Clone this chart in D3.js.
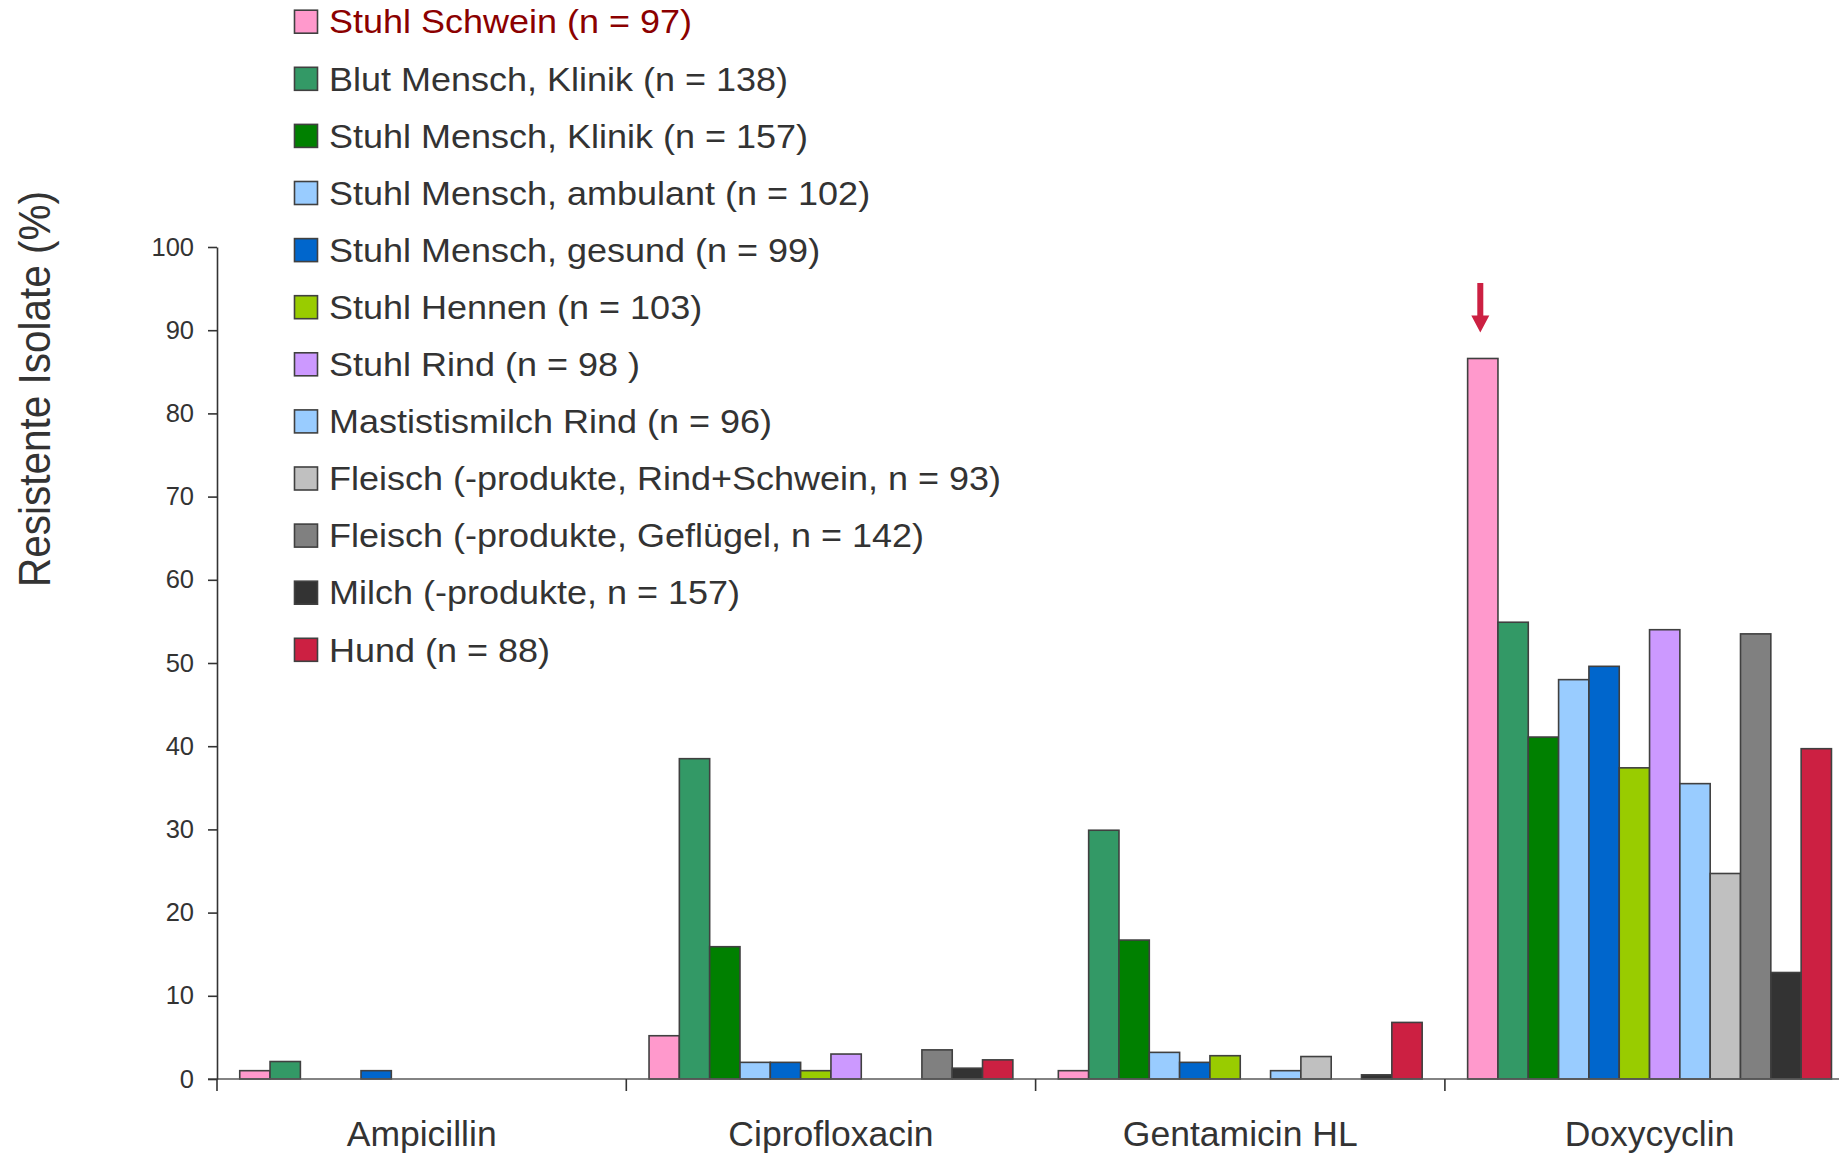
<!DOCTYPE html>
<html lang="de">
<head>
<meta charset="utf-8">
<title>Resistente Isolate</title>
<script src="https://cdn.jsdelivr.net/npm/d3@7/dist/d3.min.js"></script>
<style>
  html, body { margin: 0; padding: 0; background: #fff; overflow: hidden; }
  svg { display: block; font-family: "Liberation Sans", Arial, Helvetica, sans-serif; }
</style>
</head>
<body>
<svg id="chart" width="1839" height="1154"></svg>
<script>
// Antibiotika (Kategorien der x-Achse)
const categories = ["Ampicillin", "Ciprofloxacin", "Gentamicin HL", "Doxycyclin"];

// Herkunft der Isolate (Legende)
const seriesNames = [
  "Stuhl Schwein (n = 97)",
  "Blut Mensch, Klinik (n = 138)",
  "Stuhl Mensch, Klinik (n = 157)",
  "Stuhl Mensch, ambulant (n = 102)",
  "Stuhl Mensch, gesund (n = 99)",
  "Stuhl Hennen (n = 103)",
  "Stuhl Rind (n = 98 )",
  "Mastistismilch Rind (n = 96)",
  "Fleisch (-produkte, Rind+Schwein, n = 93)",
  "Fleisch (-produkte, Geflügel, n = 142)",
  "Milch (-produkte, n = 157)",
  "Hund (n = 88)"
];

// Anteil resistenter Isolate in %, je Herkunft: Ampicillin, Ciprofloxacin, Gentamicin HL, Doxycyclin
const stuhlSchwein     = [1.0, 5.2, 1.0, 86.6];
const blutKlinik       = [2.1, 38.5, 29.9, 54.9];
const stuhlKlinik      = [0, 15.9, 16.7, 41.1];
const stuhlAmbulant    = [0, 2.0, 3.2, 48.0];
const stuhlGesund      = [1.0, 2.0, 2.0, 49.6];
const stuhlHennen      = [0, 1.0, 2.8, 37.4];
const stuhlRind        = [0, 3.0, 0, 54.0];
const mastitismilch    = [0, 0, 1.0, 35.5];
const fleischRindSchw  = [0, 0, 2.7, 24.7];
const fleischGefluegel = [0, 3.5, 0, 53.5];
const milchProdukte    = [0, 1.3, 0.5, 12.8];
const hund             = [0, 2.3, 6.8, 39.7];

const seriesValues = [
  stuhlSchwein, blutKlinik, stuhlKlinik, stuhlAmbulant, stuhlGesund, stuhlHennen,
  stuhlRind, mastitismilch, fleischRindSchw, fleischGefluegel, milchProdukte, hund
];

// y-Achsen-Beschriftungen
const yTicks = [0, 10, 20, 30, 40, 50, 60, 70, 80, 90, 100];

// Hervorgehobene Herkunft (Pfeil über dem Balken)
const highlightSeries = 0;
const highlightCategory = 3;

// Farben der Reihen
const colors = [
  "#FF99CC", "#339966", "#008000", "#99CCFF", "#0066CC", "#99CC00",
  "#CC99FF", "#99CCFF", "#C0C0C0", "#808080", "#333333", "#CC2042"
];

const textColor = "#333333";
const highlightText = "#8B0000";
const accent = "#CC2042";

const svg = d3.select("#chart");

// Plotbereich
const plotLeft = 217, catWidth = 409.3;
const y0 = 1079, y100 = 247;

const x0 = d3.scaleBand()
  .domain(categories)
  .range([plotLeft, plotLeft + catWidth * categories.length])
  .paddingInner(0).paddingOuter(0);

// Balkengruppen mit 150 % Abstand (0,75 Balkenbreite je Seite)
const nSeries = seriesNames.length;
const barW = x0.bandwidth() / (nSeries + 1.5);
const x1 = d3.scaleBand()
  .domain(d3.range(nSeries))
  .range([barW * 0.75, x0.bandwidth() - barW * 0.75])
  .paddingInner(0).paddingOuter(0);

const y = d3.scaleLinear().domain([0, 100]).range([y0, y100]);

// Balken
const barData = [];
seriesValues.forEach((vals, s) => {
  vals.forEach((v, c) => barData.push({ s, c, v }));
});

svg.append("g").attr("class", "bars")
  .selectAll("rect")
  .data(barData.filter(d => d.v > 0))
  .join("rect")
  .attr("x", d => x0(categories[d.c]) + x1(d.s))
  .attr("y", d => y(d.v))
  .attr("width", x1.bandwidth())
  .attr("height", d => y(0) - y(d.v))
  .attr("fill", d => colors[d.s])
  .attr("stroke", "#404040")
  .attr("stroke-width", 1.6);

// x-Achse: Linie, Kategoriegrenzen und Beschriftungen
const xAxisG = svg.append("g").attr("transform", `translate(0,${y0})`);
xAxisG.append("line")
  .attr("x1", plotLeft - 9).attr("x2", 1839)
  .attr("y1", 0).attr("y2", 0)
  .attr("stroke", "#5a5a5a").attr("stroke-width", 1.6);
xAxisG.selectAll("line.bound")
  .data(categories.concat(["__end"]))
  .join("line")
  .attr("class", "bound")
  .attr("x1", (d, i) => plotLeft + catWidth * i)
  .attr("x2", (d, i) => plotLeft + catWidth * i)
  .attr("y1", 0).attr("y2", 12)
  .attr("stroke", "#333").attr("stroke-width", 1.6);

const xAxis = d3.axisBottom(x0).tickSize(0).tickPadding(41.5);
const xLabels = svg.append("g").attr("transform", `translate(0,${y0})`).call(xAxis);
xLabels.select(".domain").remove();
xLabels.selectAll("text")
  .attr("fill", textColor)
  .style("font-size", "35.5px")
  .style("font-family", "'Liberation Sans', Arial, sans-serif");

// y-Achse
const yAxis = d3.axisLeft(y).tickValues(yTicks).tickSize(9).tickPadding(14).tickSizeOuter(0);
const yG = svg.append("g").attr("transform", `translate(${plotLeft},0)`).call(yAxis);
yG.select(".domain").attr("stroke", "#333").attr("stroke-width", 1.6);
yG.selectAll(".tick line").attr("stroke", "#333").attr("stroke-width", 1.6);
yG.selectAll("text")
  .attr("fill", textColor)
  .style("font-size", "25.5px")
  .style("font-family", "'Liberation Sans', Arial, sans-serif");

// y-Achsentitel (leicht gestaucht gesetzt)
svg.append("text")
  .attr("transform", `translate(50,389) scale(1,0.9) rotate(-90)`)
  .attr("text-anchor", "middle")
  .attr("fill", textColor)
  .style("font-size", "45px")
  .text("Resistente Isolate (%)");

// Legende
const legend = svg.append("g").attr("class", "legend");
const legendX = 294.5, legendY0 = 21.7, legendStep = 57.1, box = 23;
const items = legend.selectAll("g")
  .data(seriesNames)
  .join("g")
  .attr("transform", (d, i) => `translate(${legendX},${legendY0 + i * legendStep})`);
items.append("rect")
  .attr("x", 0).attr("y", -box / 2)
  .attr("width", box).attr("height", box)
  .attr("fill", (d, i) => colors[i])
  .attr("stroke", "#404040").attr("stroke-width", 1.6);
items.append("text")
  .attr("transform", "translate(34.5,11.7) scale(1,0.91)")
  .attr("fill", (d, i) => i === highlightSeries ? highlightText : textColor)
  .style("font-size", "36px")
  .text(d => d);

// Pfeil über dem hervorgehobenen Balken
const hv = seriesValues[highlightSeries][highlightCategory];
const ax = x0(categories[highlightCategory]) + x1(highlightSeries) + x1.bandwidth() / 2 - 2.5;
const tipY = y(hv) - 26;
const arrow = svg.append("g").attr("fill", accent);
arrow.append("rect")
  .attr("x", ax - 3).attr("y", tipY - 49.5)
  .attr("width", 6).attr("height", 34);
arrow.append("path")
  .attr("d", `M${ax - 9},${tipY - 17} L${ax + 9},${tipY - 17} L${ax},${tipY} Z`);
</script>
</body>
</html>
